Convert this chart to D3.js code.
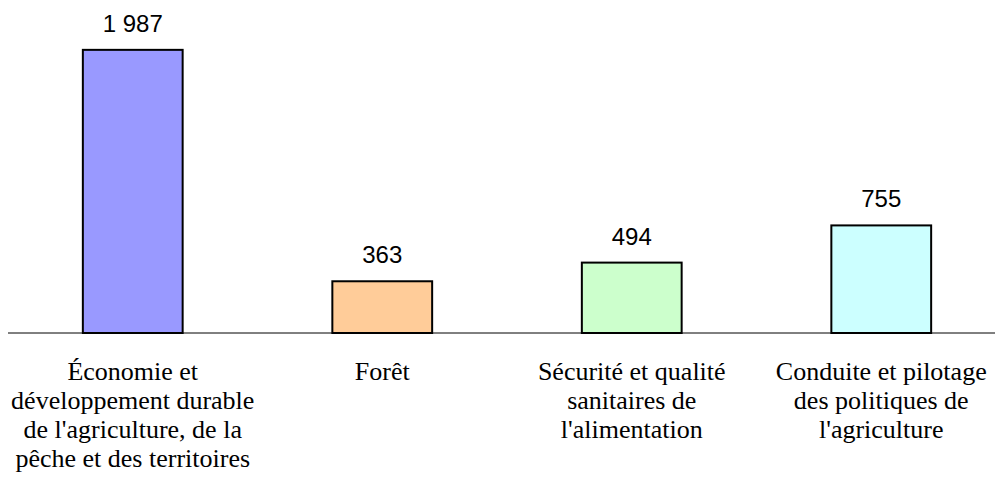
<!DOCTYPE html>
<html>
<head>
<meta charset="utf-8">
<script src="https://cdn.jsdelivr.net/npm/d3@7"></script>
<style>
  body { margin: 0; background: #fff; }
</style>
</head>
<body>
<div class="chart"></div>
<script>
var categories = [
    ["Économie et", "développement durable", "de l'agriculture, de la", "pêche et des territoires"],
    ["Forêt"],
    ["Sécurité et qualité", "sanitaires de", "l'alimentation"],
    ["Conduite et pilotage", "des politiques de", "l'agriculture"]
];
var values = [1987, 363, 494, 755];
var valueLabels = ["1 987", "363", "494", "755"];
var colors = ["#9999FF", "#FFCC99", "#CCFFCC", "#CCFFFF"];

var width = 995, height = 479;
var baseline = 333;

var svg = d3.select(".chart")
    .append("svg")
    .attr("width", width)
    .attr("height", height);

// echelles
var xScale = d3.scaleBand()
    .domain(d3.range(values.length))
    .range([8, 1006])
    .paddingInner(0.6)
    .paddingOuter(0.3);

var yScale = d3.scaleLinear()
    .domain([0, 2000])
    .range([baseline, 48]);

// barres
svg.append("g")
    .selectAll("rect")
    .data(values)
    .enter().append("rect")
    .attr("x", function (d, i) { return xScale(i); })
    .attr("y", function (d) { return yScale(d); })
    .attr("width", xScale.bandwidth())
    .attr("height", function (d) { return yScale(0) - yScale(d); })
    .style("fill", function (d, i) { return colors[i]; })
    .style("stroke", "#000")
    .style("stroke-width", 2);

// axe horizontal
svg.append("line")
    .attr("x1", 8)
    .attr("x2", width)
    .attr("y1", yScale(0))
    .attr("y2", yScale(0))
    .style("stroke", "#000")
    .style("stroke-width", 1);

// valeurs au dessus des barres
svg.append("g")
    .selectAll("text")
    .data(values)
    .enter().append("text")
    .attr("x", function (d, i) { return xScale(i) + xScale.bandwidth() / 2; })
    .attr("y", function (d) { return yScale(d) - 18; })
    .attr("text-anchor", "middle")
    .style("font-family", "'Liberation Sans', Arial, sans-serif")
    .style("font-size", "24px")
    .style("fill", "#000")
    .text(function (d, i) { return valueLabels[i]; });

// libelles des categories
var labels = svg.append("g")
    .selectAll("text")
    .data(categories)
    .enter().append("text")
    .attr("x", function (d, i) { return xScale(i) + xScale.bandwidth() / 2; })
    .attr("y", yScale(0) + 47)
    .attr("text-anchor", "middle")
    .style("font-family", "'Liberation Serif', 'Times New Roman', serif")
    .style("font-size", "26px")
    .style("fill", "#000");

labels.each(function (lines, i) {
    var t = d3.select(this);
    lines.forEach(function (line, j) {
        t.append("tspan")
            .attr("x", xScale(i) + xScale.bandwidth() / 2)
            .attr("dy", j === 0 ? 0 : 29)
            .text(line);
    });
});
</script>
</body>
</html>
